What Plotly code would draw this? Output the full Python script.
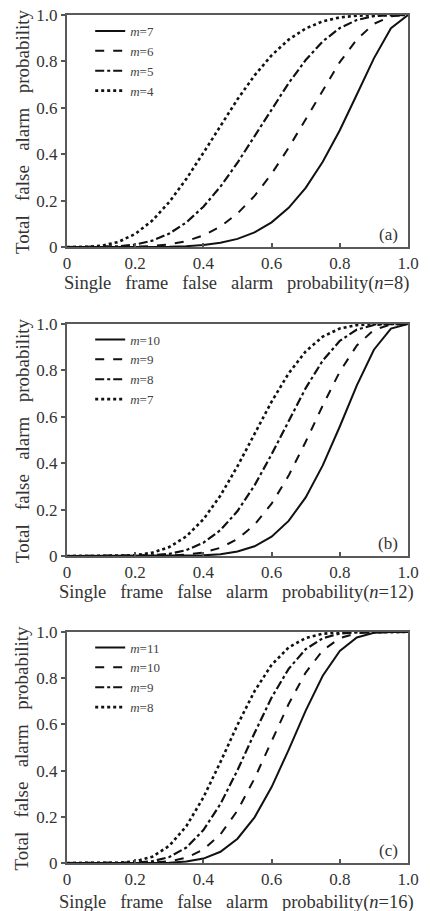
import plotly.graph_objects as go

# single-frame false alarm probability (x values)
P = [0, 0.05, 0.1, 0.15, 0.2, 0.25, 0.3, 0.35, 0.4, 0.45, 0.5,
     0.55, 0.6, 0.65, 0.7, 0.75, 0.8, 0.85, 0.9, 0.95, 1.0]

# panel (a), n=8
a_m7 = [0, 0, 0, 0.0000, 0.0001, 0.0004, 0.0013, 0.0036, 0.0085, 0.0181, 0.0352,
        0.0632, 0.1064, 0.1691, 0.2553, 0.3671, 0.5033, 0.6572, 0.8131, 0.9428, 1]
a_m6 = [0, 0, 0, 0.0002, 0.0012, 0.0042, 0.0113, 0.0253, 0.0498, 0.0885, 0.1445,
        0.2201, 0.3154, 0.4278, 0.5518, 0.6785, 0.7969, 0.8948, 0.9619, 0.9942, 1]
a_m5 = [0, 0, 0.0004, 0.0029, 0.0104, 0.0273, 0.0580, 0.1061, 0.1737, 0.2604, 0.3633,
        0.4770, 0.5941, 0.7064, 0.8059, 0.8862, 0.9437, 0.9786, 0.9950, 0.9996, 1]
a_m4 = [0, 0.0004, 0.0050, 0.0214, 0.0563, 0.1138, 0.1941, 0.2936, 0.4059, 0.5230, 0.6367,
        0.7396, 0.8263, 0.8939, 0.9420, 0.9727, 0.9896, 0.9971, 0.9996, 1.0, 1]

# panel (b), n=12
b_m10 = [0, 0, 0, 0, 0, 0, 0.0002, 0.0008, 0.0028, 0.0079, 0.0193,
         0.0421, 0.0834, 0.1513, 0.2528, 0.3907, 0.5583, 0.7358, 0.8891, 0.9804, 1]
b_m9 = [0, 0, 0, 0, 0.0001, 0.0004, 0.0017, 0.0056, 0.0153, 0.0356, 0.0730,
        0.1345, 0.2253, 0.3467, 0.4925, 0.6488, 0.7946, 0.9078, 0.9744, 0.9978, 1]
b_m8 = [0, 0, 0, 0.0001, 0.0006, 0.0028, 0.0095, 0.0255, 0.0573, 0.1117, 0.1938,
        0.3045, 0.4382, 0.5834, 0.7237, 0.8424, 0.9274, 0.9761, 0.9957, 0.9998, 1]
b_m7 = [0, 0, 0, 0.0007, 0.0039, 0.0143, 0.0386, 0.0846, 0.1582, 0.2607, 0.3872,
        0.5270, 0.6652, 0.7873, 0.8822, 0.9456, 0.9806, 0.9954, 0.9995, 1.0, 1]

# panel (c), n=16
c_m11 = [0, 0, 0, 0, 0, 0.0003, 0.0016, 0.0062, 0.0191, 0.0486, 0.1051,
         0.1976, 0.3288, 0.4900, 0.6597, 0.8104, 0.9183, 0.9765, 0.9967, 0.9999, 1]
c_m10 = [0, 0, 0, 0, 0.0002, 0.0016, 0.0071, 0.0228, 0.0583, 0.1241, 0.2272,
         0.3660, 0.5272, 0.6882, 0.8246, 0.9205, 0.9733, 0.9944, 0.9995, 1, 1]
c_m9 = [0, 0, 0, 0.0002, 0.0015, 0.0075, 0.0257, 0.0670, 0.1423, 0.2559, 0.4018,
        0.5629, 0.7161, 0.8406, 0.9256, 0.9729, 0.9930, 0.9989, 0.9999, 1, 1]
c_m8 = [0, 0, 0.0001, 0.0011, 0.0070, 0.0271, 0.0744, 0.1594, 0.2839, 0.4371, 0.5982,
        0.7441, 0.8577, 0.9330, 0.9743, 0.9925, 0.9985, 0.9998, 1, 1, 1]

tick_vals = [0, 0.2, 0.4, 0.6, 0.8, 1.0]
tick_text = ["0", "0.2", "0.4", "0.6", "0.8", "1.0"]

panels = [
    ("(a)", "8", [("7", a_m7), ("6", a_m6), ("5", a_m5), ("4", a_m4)]),
    ("(b)", "12", [("10", b_m10), ("9", b_m9), ("8", b_m8), ("7", b_m7)]),
    ("(c)", "16", [("11", c_m11), ("10", c_m10), ("9", c_m9), ("8", c_m8)]),
]

FONT = "Liberation Serif, Times New Roman, serif"
SP = "&nbsp;&nbsp; "
dashes = ["solid", "dash", "dashdot", "dot"]
widths = [2.0, 2.0, 2.2, 2.6]

# y domains (paper) for the three panels
domains = [(0.7264, 1.0), (0.3620, 0.6356), (0.0, 0.2724)]
legend_tops = [0.9988, 0.635, 0.2718]
xtitle_y = [0.6828, 0.3184, -0.046]

fig = go.Figure()
layout = dict(
    width=430, height=911,
    margin=dict(l=67, r=22, t=15, b=48, autoexpand=False),
    paper_bgcolor="white", plot_bgcolor="white",
    font=dict(family=FONT, size=17, color="#222"),
    annotations=[],
)

for i, (lab, n, series) in enumerate(panels):
    k = "" if i == 0 else str(i + 1)
    leg = "legend" if i == 0 else "legend" + str(i + 1)
    for j, (m, vals) in enumerate(series):
        fig.add_trace(go.Scatter(
            x=P, y=vals, mode="lines",
            name="<i>m</i>=" + m,
            line=dict(color="#111", width=widths[j], dash=dashes[j]),
            xaxis="x" + k, yaxis="y" + k, legend=leg,
        ))
    axstyle = dict(
        range=[0, 1], showgrid=False, zeroline=False,
        showline=True, linecolor="#5a5a5a", linewidth=2, mirror=True,
        ticklen=4, tickcolor="#555", tickwidth=1.5,
        tickfont=dict(family=FONT, size=17, color="#333"),
        tickvals=tick_vals, ticktext=tick_text,
        ticklabeloverflow="allow",
    )
    layout["xaxis" + k] = dict(axstyle, domain=[0, 1], anchor="y" + k, ticks="inside")
    layout["yaxis" + k] = dict(axstyle, domain=list(domains[i]), anchor="x" + k,
                               ticks="outside")
    layout[leg] = dict(
        x=0.068, y=legend_tops[i], xanchor="left", yanchor="top",
        bgcolor="rgba(0,0,0,0)", borderwidth=0,
        font=dict(family=FONT, size=13, color="#444"),
        tracegroupgap=0,
    )
    layout["annotations"].append(dict(
        text=lab, xref="x" + k + " domain", yref="y" + k + " domain",
        x=0.978, y=0.005, xanchor="right", yanchor="bottom",
        showarrow=False, font=dict(family=FONT, size=17, color="#333"),
    ))
    layout["annotations"].append(dict(
        text="Single" + SP + "frame" + SP + "false" + SP + "alarm" + SP
             + "probability(<i>n</i>=" + n + ")",
        xref="paper", yref="paper", x=0.496, y=xtitle_y[i],
        xanchor="center", yanchor="middle", showarrow=False,
        font=dict(family=FONT, size=18.5, color="#333"),
    ))
    layout["annotations"].append(dict(
        text="Total" + SP + "false" + SP + "alarm" + SP + "probability",
        xref="paper", yref="paper", x=-0.132,
        y=(domains[i][0] + domains[i][1]) / 2,
        xanchor="center", yanchor="middle", textangle=-90, showarrow=False,
        font=dict(family=FONT, size=19, color="#333"),
    ))

fig.update_layout(**layout)
fig.write_html("out.html",
               config={"displayModeBar": False},
               post_script="document.body.style.margin='0px';"
                           "document.body.style.overflow='hidden';")
